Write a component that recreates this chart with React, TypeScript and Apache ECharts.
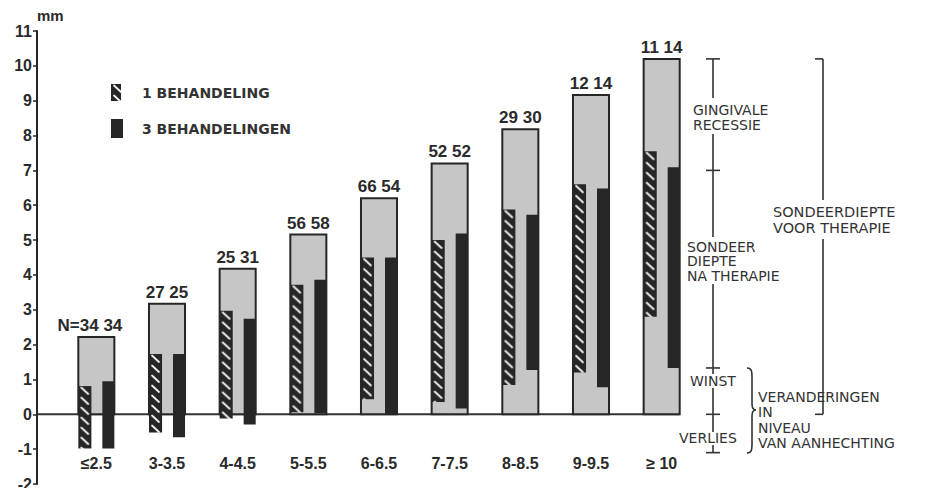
import React, { useEffect, useRef } from 'react';
import * as echarts from 'echarts';

const categories = ['≤2.5', '3-3.5', '4-4.5', '5-5.5', '6-6.5', '7-7.5', '8-8.5', '9-9.5', '≥ 10'];
// probing depth before therapy (outer grey bar)
const depthBefore = [2.22, 3.17, 4.18, 5.16, 6.2, 7.2, 8.18, 9.16, 10.2];
// 1 behandeling (hatched) floating bar: low / high
const oneLow = [-0.98, -0.52, -0.12, 0.06, 0.43, 0.35, 0.84, 1.2, 2.8];
const oneHigh = [0.81, 1.73, 2.97, 3.72, 4.5, 5.0, 5.88, 6.6, 7.55];
// 3 behandelingen (solid) floating bar: low / high
const threeLow = [-0.98, -0.66, -0.29, 0.03, 0.0, 0.17, 1.27, 0.78, 1.33];
const threeHigh = [0.95, 1.73, 2.74, 3.86, 4.5, 5.19, 5.73, 6.48, 7.09];
// number of sites
const nOne = [34, 27, 25, 56, 66, 52, 29, 12, 11];
const nThree = [34, 25, 31, 58, 54, 52, 30, 14, 14];
// y axis
const yMin = -2;
const yMax = 11;
const yStep = 1;
// right-hand scale marks (mm)
const scaleTop = 10.2;
const scaleTicks = [7.0, 1.33, 0];
const scaleBottom = -1.1;

const INK = '#262626';
const TXT = '#333333';
const GREY = '#c6c6c6';

function makeHatch() {
  const c = document.createElement('canvas');
  c.width = 13;
  c.height = 10;
  const g = c.getContext('2d')!;
  g.fillStyle = INK;
  g.fillRect(0, 0, 13, 10);
  g.strokeStyle = '#f2f2f2';
  g.lineWidth = 1.8;
  g.lineCap = 'round';
  g.beginPath();
  g.moveTo(3, 1.5);
  g.lineTo(10, 8);
  g.stroke();
  return c;
}

export default function App() {
  const ref = useRef<HTMLDivElement>(null);

  useEffect(() => {
    if (!ref.current) return;
    document.body.style.margin = '0';
    const chart = echarts.init(ref.current, null, { renderer: 'svg' });
    const hatch = { image: makeHatch(), repeat: 'repeat' };

    const gridLeft = 61;
    const yOffset = 24;
    const gridTop = 31;
    const gridBottom = 4;
    const plotH = 488 - gridTop - gridBottom;
    // distance from the grid bottom to the zero line (from the y range)
    const zeroLift = (plotH * (0 - yMin)) / (yMax - yMin);

    const data = categories.map((c, i) => [
      i,
      depthBefore[i],
      oneLow[i],
      oneHigh[i],
      threeLow[i],
      threeHigh[i],
      nOne[i],
      nThree[i],
    ]);

    const option: any = {
      animation: false,
      backgroundColor: '#ffffff',
      grid: {
        left: gridLeft,
        right: 236,
        top: gridTop,
        bottom: gridBottom,
        containLabel: false,
        outerBoundsMode: 'none',
      },
      xAxis: {
        type: 'category',
        data: categories,
        offset: -zeroLift,
        axisLine: { show: false, onZero: false },
        axisTick: { show: false },
        splitLine: { show: false },
        axisLabel: {
          margin: 41,
          interval: 0,
          color: '#2a2a2a',
          fontFamily: 'Liberation Sans',
          fontWeight: 'bold',
          fontSize: 16,
        },
      },
      yAxis: {
        type: 'value',
        min: yMin,
        max: yMax,
        interval: yStep,
        offset: yOffset,
        name: 'mm',
        nameLocation: 'end',
        nameGap: 8,
        nameTextStyle: {
          align: 'left',
          color: '#2a2a2a',
          fontFamily: 'Liberation Sans',
          fontWeight: 'bold',
          fontSize: 15,
        },
        axisLine: { show: true, lineStyle: { color: INK, width: 2 } },
        axisTick: { show: true, length: 4, lineStyle: { color: INK, width: 1.5 } },
        splitLine: { show: false },
        axisLabel: {
          margin: 5,
          color: '#2a2a2a',
          fontFamily: 'Liberation Sans',
          fontWeight: 'bold',
          fontSize: 16,
        },
      },
      series: [
        {
          type: 'custom',
          clip: false,
          encode: { x: 0, y: [1, 2, 3, 4, 5] },
          data,
          renderItem: (params: any, api: any) => {
            const i = api.value(0);
            const band = api.size([1, 0])[0];
            const base = api.coord([i, 0]);
            const cx = base[0];
            const y0 = base[1];
            const yT = api.coord([i, api.value(1)])[1];
            const ow = band * 0.51;
            const left = cx - ow / 2;
            const hw = band * 0.185;
            const dw = band * 0.17;
            const l1 = api.coord([i, api.value(2)])[1];
            const h1 = api.coord([i, api.value(3)])[1];
            const l3 = api.coord([i, api.value(4)])[1];
            const h3 = api.coord([i, api.value(5)])[1];
            const label = api.value(6) + ' ' + api.value(7);
            const children: any[] = [
              {
                type: 'rect',
                shape: { x: left, y: yT, width: ow, height: y0 - yT },
                style: { fill: GREY, stroke: INK, lineWidth: 2 },
              },
              {
                type: 'rect',
                x: left,
                y: h1,
                shape: { x: 0, y: 0, width: hw, height: l1 - h1 },
                style: { fill: hatch },
              },
              {
                type: 'rect',
                shape: { x: left + ow - dw, y: h3, width: dw, height: l3 - h3 },
                style: { fill: INK },
              },
              {
                type: 'text',
                x: i === 0 ? cx + 26 : cx,
                y: yT - 3,
                style: {
                  text: i === 0 ? 'N=' + label : label,
                  fill: '#2a2a2a',
                  fontFamily: 'Liberation Sans',
                  fontWeight: 'bold',
                  fontSize: 17,
                  align: i === 0 ? 'right' : 'center',
                  verticalAlign: 'bottom',
                },
              },
            ];
            return { type: 'group', children };
          },
        },
      ],
    };

    chart.setOption(option);

    const yPx = (v: number) => chart.convertToPixel({ yAxisIndex: 0 }, v) as number;
    const xPx = (i: number) => chart.convertToPixel({ xAxisIndex: 0 }, i) as number;
    const band = xPx(1) - xPx(0);
    const axisX = gridLeft - yOffset;
    const y0 = yPx(0);
    const lastRight = xPx(categories.length - 1) + band * 0.255;

    echarts.graphic.registerShape(
      'brace',
      echarts.graphic.extendPath(
        'M0 0 C5 0 5 4 5 10 L5 36 C5 40 7 42 9 42 C7 42 5 44 5 48 L5 75 C5 81 5 85 0 85',
        {}
      ) as any
    );

    const ln = (x1: number, y1: number, x2: number, y2: number, w = 1.6) => ({
      type: 'line',
      shape: { x1, y1, x2, y2 },
      style: { stroke: TXT, lineWidth: w },
      silent: true,
    });
    const tx = (
      text: string,
      x: number,
      y: number,
      size = 15,
      weight = 'normal',
      lh = 15.5
    ) => ({
      type: 'text',
      x,
      y,
      style: {
        text,
        fill: TXT,
        fontFamily: 'DejaVu Sans',
        fontSize: size,
        fontWeight: weight,
        lineHeight: lh,
        align: 'left',
        verticalAlign: 'middle',
      },
    });

    const sx = 713;
    const yTop = yPx(scaleTop);
    const yBot = yPx(scaleBottom);
    const bx = 823;

    const graphics: any[] = [
      // baseline
      ln(axisX, y0, lastRight, y0, 2),
      // right-hand scale
      ln(sx, yTop, sx, 98),
      ln(sx, 134, sx, 237),
      ln(sx, 284, sx, 374),
      ln(sx, 388, sx, 432),
      ln(sx, 445, sx, yBot),
      ln(sx - 7, yTop, sx + 7, yTop),
      ln(sx - 7, yBot, sx + 7, yBot),
      ...scaleTicks.map((v) => ln(sx - 7, yPx(v), sx + 7, yPx(v))),
      tx('GINGIVALE\nRECESSIE', 693, 117.5, 14, 'normal', 15),
      tx('SONDEER\nDIEPTE\nNA THERAPIE', 687, 261, 14, 'normal', 14.5),
      tx('WINST', 690, 381, 14),
      tx('VERLIES', 679, 438, 14),
      // bracket
      ln(bx, yTop, bx, 200),
      ln(bx, 239, bx, y0),
      ln(bx - 8, yTop, bx, yTop),
      ln(bx - 8, y0, bx, y0),
      tx('SONDEERDIEPTE\nVOOR THERAPIE', 773, 220, 14.5, 'normal', 16),
      // brace
      {
        type: 'brace',
        x: 747,
        y: 368,
        style: { fill: 'none', stroke: TXT, lineWidth: 1.6 },
      },
      tx('VERANDERINGEN\nIN\nNIVEAU\nVAN AANHECHTING', 758, 420, 14, 'normal', 15.3),
      // legend
      {
        type: 'rect',
        x: 111,
        y: 84,
        shape: { x: 0, y: 0, width: 10, height: 17 },
        style: { fill: hatch },
      },
      {
        type: 'rect',
        shape: { x: 111, y: 119, width: 12, height: 19 },
        style: { fill: INK },
      },
      tx('1 BEHANDELING', 142, 93, 14, 'bold'),
      tx('3 BEHANDELINGEN', 142, 129, 14, 'bold'),
    ];

    chart.setOption({ graphic: graphics });

    return () => {
      chart.dispose();
    };
  }, []);

  return (
    <div
      ref={ref}
      style={{ position: 'fixed', left: 0, top: 0, width: 933, height: 488, background: '#fff' }}
    />
  );
}
